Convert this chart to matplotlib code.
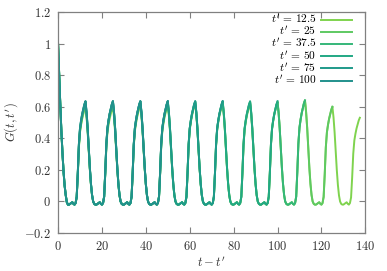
import numpy as np
import matplotlib
matplotlib.use("Agg")
import matplotlib.pyplot as plt
from matplotlib.ticker import FuncFormatter, MultipleLocator

plt.rcParams['mathtext.fontset'] = 'cm'
plt.rcParams['font.family'] = 'serif'
plt.rcParams['font.serif'] = ['DejaVu Serif']

dt = 0.5
period = 12.5
total = 150.0

# decay from 1 at t - t' = 0 down to the first flat part
start_decay = [1.0, 0.80, 0.62, 0.45, 0.31, 0.19, 0.10, 0.04, -0.005]
# one period, starting at a peak (0.63) and ending just before the next one
period_shape = [0.63, 0.56, 0.46, 0.33, 0.21, 0.11, 0.04, 0.00,
                -0.015, -0.02, -0.02, -0.015, -0.01, -0.005, -0.015, -0.02,
                -0.01, 0.03, 0.18, 0.36, 0.46, 0.51, 0.55, 0.58, 0.61]

t_primes = [12.5, 25, 37.5, 50, 75, 100]
labels = [r"$t' \,=\, 12.5$", r"$t' \,=\, 25$", r"$t' \,=\, 37.5$",
          r"$t' \,=\, 50$", r"$t' \,=\, 75$", r"$t' \,=\, 100$"]
colors = ["#7fd34e", "#5ec962", "#35b779", "#22a884", "#1f9a8a", "#21918c"]

# peak height of each pulse (peaks at 12.5, 25, ...), per curve
peaks = {
    12.5: [0.60, 0.60, 0.61, 0.61, 0.62, 0.62, 0.62, 0.63, 0.64, 0.60, 0.53],
    25:   [0.61, 0.62, 0.62, 0.62, 0.63, 0.63, 0.63, 0.63, 0.64, 0.60],
    37.5: [0.62, 0.63, 0.63, 0.63, 0.63, 0.63, 0.63, 0.63, 0.64],
    50:   [0.63, 0.635, 0.635, 0.635, 0.635, 0.635, 0.635, 0.635],
    75:   [0.635, 0.635, 0.635, 0.635, 0.635, 0.635],
    100:  [0.635, 0.635, 0.635, 0.635],
}


def build_curve(tp):
    t_end = total - tp
    n = int(round(t_end / dt)) + 1
    t = np.arange(n) * dt
    shape = np.array(period_shape)
    per = len(shape)
    g = np.empty(n)
    pk = peaks[tp]
    p0 = period_shape[0]
    for i in range(n):
        if i < len(start_decay):
            g[i] = start_decay[i]
            continue
        k = i % per
        g[i] = shape[k]
        # which pulse this sample belongs to
        if k <= 7:
            idx = i // per - 1
        elif k >= 17:
            idx = i // per
        else:
            continue
        if 0 <= idx < len(pk):
            g[i] = shape[k] * pk[idx] / p0
    return t, g


fig = plt.figure(figsize=(3.87, 2.71), dpi=100)
ax = fig.add_axes([0.150, 0.140, 0.794, 0.816])

for tp, lab, col in zip(t_primes, labels, colors):
    t, g = build_curve(tp)
    ax.plot(t, g, color=col, lw=1.4, label=lab)

ax.set_xlim(0, 140)
ax.set_ylim(-0.2, 1.2)
ax.xaxis.set_major_locator(MultipleLocator(20))
ax.yaxis.set_major_locator(MultipleLocator(0.2))
fmt = FuncFormatter(lambda v, p: r"$%g$" % round(v, 2))
ax.xaxis.set_major_formatter(fmt)
ax.yaxis.set_major_formatter(fmt)
ax.tick_params(direction='in', top=True, right=True, length=4, width=0.8,
               color='#808080', labelsize=9, labelcolor='#333333', pad=5)
for s in ax.spines.values():
    s.set_color('#808080')
    s.set_linewidth(0.9)

ax.set_xlabel(r"$t - t'$", fontsize=9, color='#333333', labelpad=2)
ax.set_ylabel(r"$G(t,t')$", fontsize=9, color='#333333', labelpad=3)

ax.legend(loc='upper right', frameon=False, markerfirst=False, fontsize=8.2,
          handlelength=2.7, labelspacing=-0.09, handletextpad=0.4,
          borderpad=0, borderaxespad=0, bbox_to_anchor=(0.956, 0.995))

fig.savefig("out.png", dpi=100)
